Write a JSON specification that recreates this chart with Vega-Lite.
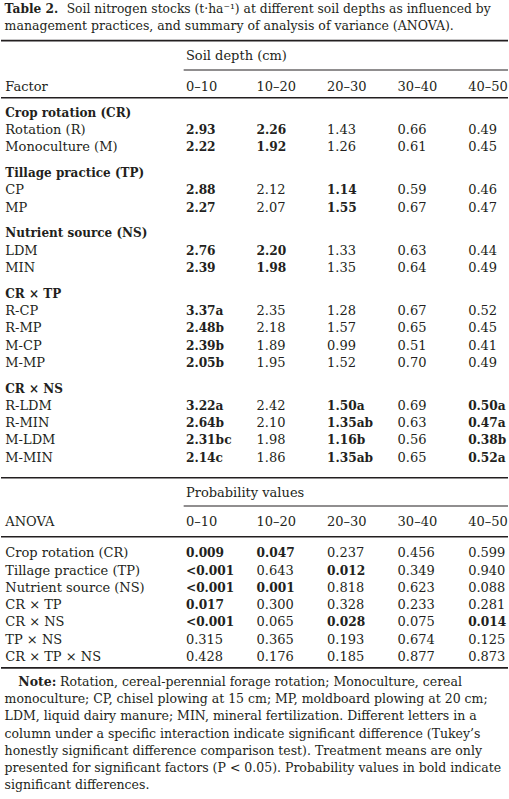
{
  "$schema": "https://vega.github.io/schema/vega-lite/v6.json",
  "width": 509,
  "height": 799,
  "padding": 0,
  "autosize": {"type": "fit", "contains": "padding"},
  "config": {"view": {"stroke": null}, "text": {"font": "DejaVu Serif", "fontSize": 13, "color": "#231f20", "align": "left", "baseline": "alphabetic"}},
  "datasets": {
    "labels": [
      {"line": 4.5, "label": "Factor"},
      {"line": 6, "label": "Crop rotation (CR)", "head": 1},
      {"line": 7, "label": "Rotation (R)"},
      {"line": 8, "label": "Monoculture (M)"},
      {"line": 9.5, "label": "Tillage practice (TP)", "head": 1},
      {"line": 10.5, "label": "CP"},
      {"line": 11.5, "label": "MP"},
      {"line": 13, "label": "Nutrient source (NS)", "head": 1},
      {"line": 14, "label": "LDM"},
      {"line": 15, "label": "MIN"},
      {"line": 16.5, "label": "CR × TP", "head": 1},
      {"line": 17.5, "label": "R-CP"},
      {"line": 18.5, "label": "R-MP"},
      {"line": 19.5, "label": "M-CP"},
      {"line": 20.5, "label": "M-MP"},
      {"line": 22, "label": "CR × NS", "head": 1},
      {"line": 23, "label": "R-LDM"},
      {"line": 24, "label": "R-MIN"},
      {"line": 25, "label": "M-LDM"},
      {"line": 26, "label": "M-MIN"},
      {"line": 29.75, "label": "ANOVA"},
      {"line": 31.55, "label": "Crop rotation (CR)"},
      {"line": 32.55, "label": "Tillage practice (TP)"},
      {"line": 33.55, "label": "Nutrient source (NS)"},
      {"line": 34.55, "label": "CR × TP"},
      {"line": 35.55, "label": "CR × NS"},
      {"line": 36.55, "label": "TP × NS"},
      {"line": 37.55, "label": "CR × TP × NS"}
    ],
    "cells": [
      {"line": 2.71, "depth": 0, "value": "Soil depth (cm)"},
      {"line": 4.5, "depth": 0, "value": "0–10"},
      {"line": 4.5, "depth": 10, "value": "10–20"},
      {"line": 4.5, "depth": 20, "value": "20–30"},
      {"line": 4.5, "depth": 30, "value": "30–40"},
      {"line": 4.5, "depth": 40, "value": "40–50"},
      {"line": 7, "depth": 0, "value": "2.93", "sig": 1},
      {"line": 7, "depth": 10, "value": "2.26", "sig": 1},
      {"line": 7, "depth": 20, "value": "1.43"},
      {"line": 7, "depth": 30, "value": "0.66"},
      {"line": 7, "depth": 40, "value": "0.49"},
      {"line": 8, "depth": 0, "value": "2.22", "sig": 1},
      {"line": 8, "depth": 10, "value": "1.92", "sig": 1},
      {"line": 8, "depth": 20, "value": "1.26"},
      {"line": 8, "depth": 30, "value": "0.61"},
      {"line": 8, "depth": 40, "value": "0.45"},
      {"line": 10.5, "depth": 0, "value": "2.88", "sig": 1},
      {"line": 10.5, "depth": 10, "value": "2.12"},
      {"line": 10.5, "depth": 20, "value": "1.14", "sig": 1},
      {"line": 10.5, "depth": 30, "value": "0.59"},
      {"line": 10.5, "depth": 40, "value": "0.46"},
      {"line": 11.5, "depth": 0, "value": "2.27", "sig": 1},
      {"line": 11.5, "depth": 10, "value": "2.07"},
      {"line": 11.5, "depth": 20, "value": "1.55", "sig": 1},
      {"line": 11.5, "depth": 30, "value": "0.67"},
      {"line": 11.5, "depth": 40, "value": "0.47"},
      {"line": 14, "depth": 0, "value": "2.76", "sig": 1},
      {"line": 14, "depth": 10, "value": "2.20", "sig": 1},
      {"line": 14, "depth": 20, "value": "1.33"},
      {"line": 14, "depth": 30, "value": "0.63"},
      {"line": 14, "depth": 40, "value": "0.44"},
      {"line": 15, "depth": 0, "value": "2.39", "sig": 1},
      {"line": 15, "depth": 10, "value": "1.98", "sig": 1},
      {"line": 15, "depth": 20, "value": "1.35"},
      {"line": 15, "depth": 30, "value": "0.64"},
      {"line": 15, "depth": 40, "value": "0.49"},
      {"line": 17.5, "depth": 0, "value": "3.37a", "sig": 1},
      {"line": 17.5, "depth": 10, "value": "2.35"},
      {"line": 17.5, "depth": 20, "value": "1.28"},
      {"line": 17.5, "depth": 30, "value": "0.67"},
      {"line": 17.5, "depth": 40, "value": "0.52"},
      {"line": 18.5, "depth": 0, "value": "2.48b", "sig": 1},
      {"line": 18.5, "depth": 10, "value": "2.18"},
      {"line": 18.5, "depth": 20, "value": "1.57"},
      {"line": 18.5, "depth": 30, "value": "0.65"},
      {"line": 18.5, "depth": 40, "value": "0.45"},
      {"line": 19.5, "depth": 0, "value": "2.39b", "sig": 1},
      {"line": 19.5, "depth": 10, "value": "1.89"},
      {"line": 19.5, "depth": 20, "value": "0.99"},
      {"line": 19.5, "depth": 30, "value": "0.51"},
      {"line": 19.5, "depth": 40, "value": "0.41"},
      {"line": 20.5, "depth": 0, "value": "2.05b", "sig": 1},
      {"line": 20.5, "depth": 10, "value": "1.95"},
      {"line": 20.5, "depth": 20, "value": "1.52"},
      {"line": 20.5, "depth": 30, "value": "0.70"},
      {"line": 20.5, "depth": 40, "value": "0.49"},
      {"line": 23, "depth": 0, "value": "3.22a", "sig": 1},
      {"line": 23, "depth": 10, "value": "2.42"},
      {"line": 23, "depth": 20, "value": "1.50a", "sig": 1},
      {"line": 23, "depth": 30, "value": "0.69"},
      {"line": 23, "depth": 40, "value": "0.50a", "sig": 1},
      {"line": 24, "depth": 0, "value": "2.64b", "sig": 1},
      {"line": 24, "depth": 10, "value": "2.10"},
      {"line": 24, "depth": 20, "value": "1.35ab", "sig": 1},
      {"line": 24, "depth": 30, "value": "0.63"},
      {"line": 24, "depth": 40, "value": "0.47a", "sig": 1},
      {"line": 25, "depth": 0, "value": "2.31bc", "sig": 1},
      {"line": 25, "depth": 10, "value": "1.98"},
      {"line": 25, "depth": 20, "value": "1.16b", "sig": 1},
      {"line": 25, "depth": 30, "value": "0.56"},
      {"line": 25, "depth": 40, "value": "0.38b", "sig": 1},
      {"line": 26, "depth": 0, "value": "2.14c", "sig": 1},
      {"line": 26, "depth": 10, "value": "1.86"},
      {"line": 26, "depth": 20, "value": "1.35ab", "sig": 1},
      {"line": 26, "depth": 30, "value": "0.65"},
      {"line": 26, "depth": 40, "value": "0.52a", "sig": 1},
      {"line": 28.03, "depth": 0, "value": "Probability values"},
      {"line": 29.75, "depth": 0, "value": "0–10"},
      {"line": 29.75, "depth": 10, "value": "10–20"},
      {"line": 29.75, "depth": 20, "value": "20–30"},
      {"line": 29.75, "depth": 30, "value": "30–40"},
      {"line": 29.75, "depth": 40, "value": "40–50"},
      {"line": 31.55, "depth": 0, "value": "0.009", "sig": 1},
      {"line": 31.55, "depth": 10, "value": "0.047", "sig": 1},
      {"line": 31.55, "depth": 20, "value": "0.237"},
      {"line": 31.55, "depth": 30, "value": "0.456"},
      {"line": 31.55, "depth": 40, "value": "0.599"},
      {"line": 32.55, "depth": 0, "value": "<0.001", "sig": 1},
      {"line": 32.55, "depth": 10, "value": "0.643"},
      {"line": 32.55, "depth": 20, "value": "0.012", "sig": 1},
      {"line": 32.55, "depth": 30, "value": "0.349"},
      {"line": 32.55, "depth": 40, "value": "0.940"},
      {"line": 33.55, "depth": 0, "value": "<0.001", "sig": 1},
      {"line": 33.55, "depth": 10, "value": "0.001", "sig": 1},
      {"line": 33.55, "depth": 20, "value": "0.818"},
      {"line": 33.55, "depth": 30, "value": "0.623"},
      {"line": 33.55, "depth": 40, "value": "0.088"},
      {"line": 34.55, "depth": 0, "value": "0.017", "sig": 1},
      {"line": 34.55, "depth": 10, "value": "0.300"},
      {"line": 34.55, "depth": 20, "value": "0.328"},
      {"line": 34.55, "depth": 30, "value": "0.233"},
      {"line": 34.55, "depth": 40, "value": "0.281"},
      {"line": 35.55, "depth": 0, "value": "<0.001", "sig": 1},
      {"line": 35.55, "depth": 10, "value": "0.065"},
      {"line": 35.55, "depth": 20, "value": "0.028", "sig": 1},
      {"line": 35.55, "depth": 30, "value": "0.075"},
      {"line": 35.55, "depth": 40, "value": "0.014", "sig": 1},
      {"line": 36.55, "depth": 0, "value": "0.315"},
      {"line": 36.55, "depth": 10, "value": "0.365"},
      {"line": 36.55, "depth": 20, "value": "0.193"},
      {"line": 36.55, "depth": 30, "value": "0.674"},
      {"line": 36.55, "depth": 40, "value": "0.125"},
      {"line": 37.55, "depth": 0, "value": "0.428"},
      {"line": 37.55, "depth": 10, "value": "0.176"},
      {"line": 37.55, "depth": 20, "value": "0.185"},
      {"line": 37.55, "depth": 30, "value": "0.877"},
      {"line": 37.55, "depth": 40, "value": "0.873"}
    ],
    "rules": [
      {"line": 1.594, "kind": "thick"},
      {"line": 4.899, "kind": "mid"},
      {"line": 26.93, "kind": "mid"},
      {"line": 30.35, "kind": "mid"},
      {"line": 37.96, "kind": "thick"}
    ],
    "partial": [
      {"line": 3.293},
      {"line": 28.57}
    ],
    "title": [
      {"line": 0, "part": "lead", "text": "Table 2."},
      {"line": 0, "part": "rest", "text": "Soil nitrogen stocks (t·ha⁻¹) at different soil depths as influenced by"},
      {"line": 1, "part": "line", "text": "management practices, and summary of analysis of variance (ANOVA)."}
    ],
    "notes": [
      {"line": 39, "part": "lead", "text": "Note:"},
      {"line": 39, "part": "rest", "text": "Rotation, cereal-perennial forage rotation; Monoculture, cereal"},
      {"line": 40, "part": "line", "text": "monoculture; CP, chisel plowing at 15 cm; MP, moldboard plowing at 20 cm;"},
      {"line": 41, "part": "line", "text": "LDM, liquid dairy manure; MIN, mineral fertilization. Different letters in a"},
      {"line": 42, "part": "line", "text": "column under a specific interaction indicate significant difference (Tukey’s"},
      {"line": 43, "part": "line", "text": "honestly significant difference comparison test). Treatment means are only"},
      {"line": 44, "part": "line", "text": "presented for significant factors (P < 0.05). Probability values in bold indicate"},
      {"line": 45, "part": "line", "text": "significant differences."}
    ]
  },
  "encoding": {
    "y": {"field": "line", "type": "quantitative", "scale": {"domain": [-0.7652, 45.557], "reverse": true, "nice": false, "zero": false}, "axis": null}
  },
  "layer": [
    {
      "data": {"name": "rules"},
      "mark": {"type": "rule", "color": "#231f20"},
      "encoding": {
        "strokeWidth": {"field": "kind", "type": "nominal", "scale": {"domain": ["thick", "mid"], "range": [1.8, 1.4]}, "legend": null}
      }
    },
    {
      "data": {"name": "partial"},
      "mark": {"type": "rule", "color": "#231f20", "strokeWidth": 1.1},
      "encoding": {
        "x": {"datum": -0.32, "type": "quantitative", "scale": {"domain": [-26.21, 45.65], "nice": false, "zero": false}, "axis": null},
        "x2": {"datum": 45.65}
      }
    },
    {
      "data": {"name": "labels"},
      "transform": [{"filter": "!datum.head"}],
      "mark": {"type": "text"},
      "encoding": {
        "x": {"datum": -25.6, "type": "quantitative", "scale": {"domain": [-26.21, 45.65], "nice": false, "zero": false}, "axis": null},
        "text": {"field": "label"}
      }
    },
    {
      "data": {"name": "labels"},
      "transform": [{"filter": "datum.head"}],
      "mark": {"type": "text", "fontWeight": "bold", "fontSize": 12},
      "encoding": {
        "x": {"datum": -25.6, "type": "quantitative", "scale": {"domain": [-26.21, 45.65], "nice": false, "zero": false}, "axis": null},
        "text": {"field": "label"}
      }
    },
    {
      "data": {"name": "cells"},
      "transform": [{"filter": "!datum.sig"}],
      "mark": {"type": "text"},
      "encoding": {
        "x": {"field": "depth", "type": "quantitative", "scale": {"domain": [-26.21, 45.65], "nice": false, "zero": false}, "axis": null},
        "text": {"field": "value"}
      }
    },
    {
      "data": {"name": "cells"},
      "transform": [{"filter": "datum.sig"}],
      "mark": {"type": "text", "fontWeight": "bold", "fontSize": 12.2},
      "encoding": {
        "x": {"field": "depth", "type": "quantitative", "scale": {"domain": [-26.21, 45.65], "nice": false, "zero": false}, "axis": null},
        "text": {"field": "value"}
      }
    },
    {
      "data": {"name": "title"},
      "transform": [{"filter": "datum.part == 'lead'"}],
      "mark": {"type": "text", "fontWeight": "bold", "fontSize": 12.2},
      "encoding": {
        "x": {"datum": -25.7, "type": "quantitative", "scale": {"domain": [-26.21, 45.65], "nice": false, "zero": false}, "axis": null},
        "text": {"field": "text"}
      }
    },
    {
      "data": {"name": "title"},
      "transform": [{"filter": "datum.part == 'rest'"}],
      "mark": {"type": "text", "fontSize": 12.3},
      "encoding": {
        "x": {"datum": -16.9, "type": "quantitative", "scale": {"domain": [-26.21, 45.65], "nice": false, "zero": false}, "axis": null},
        "text": {"field": "text"}
      }
    },
    {
      "data": {"name": "title"},
      "transform": [{"filter": "datum.part == 'line'"}],
      "mark": {"type": "text", "fontSize": 12.5},
      "encoding": {
        "x": {"datum": -25.7, "type": "quantitative", "scale": {"domain": [-26.21, 45.65], "nice": false, "zero": false}, "axis": null},
        "text": {"field": "text"}
      }
    },
    {
      "data": {"name": "notes"},
      "transform": [{"filter": "datum.part == 'lead'"}],
      "mark": {"type": "text", "fontWeight": "bold", "fontSize": 12.5},
      "encoding": {
        "x": {"datum": -23.77, "type": "quantitative", "scale": {"domain": [-26.21, 45.65], "nice": false, "zero": false}, "axis": null},
        "text": {"field": "text"}
      }
    },
    {
      "data": {"name": "notes"},
      "transform": [{"filter": "datum.part == 'rest'"}],
      "mark": {"type": "text", "fontSize": 12.5},
      "encoding": {
        "x": {"datum": -17.85, "type": "quantitative", "scale": {"domain": [-26.21, 45.65], "nice": false, "zero": false}, "axis": null},
        "text": {"field": "text"}
      }
    },
    {
      "data": {"name": "notes"},
      "transform": [{"filter": "datum.part == 'line'"}],
      "mark": {"type": "text", "fontSize": 12.5},
      "encoding": {
        "x": {"datum": -25.7, "type": "quantitative", "scale": {"domain": [-26.21, 45.65], "nice": false, "zero": false}, "axis": null},
        "text": {"field": "text"}
      }
    }
  ]
}
